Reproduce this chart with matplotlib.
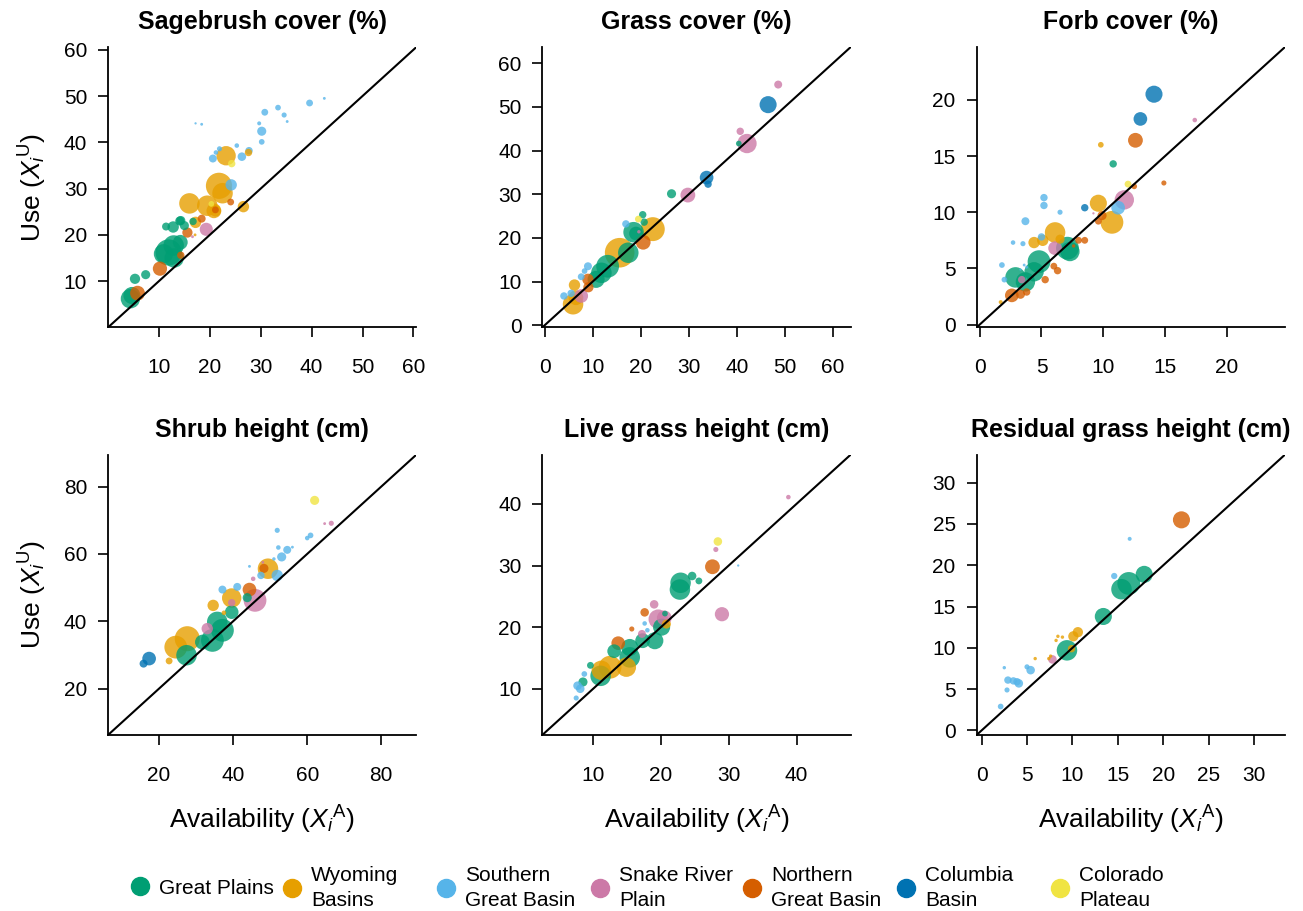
import matplotlib
matplotlib.use("Agg")
import matplotlib.pyplot as plt
from matplotlib.lines import Line2D

plt.rcParams['font.family'] = ['Liberation Sans', 'DejaVu Sans']
plt.rcParams['mathtext.fontset'] = 'custom'
plt.rcParams['mathtext.rm'] = 'Liberation Sans'
plt.rcParams['mathtext.it'] = 'Liberation Sans:italic'

# ecoregions (legend order) and Okabe-Ito colours
region_codes = ['GP', 'WB', 'SGB', 'SRP', 'NGB', 'CB', 'CP']
region_names = ['Great Plains', 'Wyoming\nBasins', 'Southern\nGreat Basin', 'Snake River\nPlain',
                'Northern\nGreat Basin', 'Columbia\nBasin', 'Colorado\nPlateau']
region_colors = {'GP': '#009E73', 'WB': '#E69F00', 'SGB': '#56B4E9', 'SRP': '#CC79A7',
                 'NGB': '#D55E00', 'CB': '#0072B2', 'CP': '#F0E442'}

# (region, availability, use, relative weight)
sagebrush = [
    ('SGB', 39.6, 48.5, 6), ('SGB', 42.5, 49.5, 2.5), ('SGB', 33.4, 47.5, 5), ('SGB', 30.8, 46.5, 6),
    ('SGB', 34.6, 45.9, 4.5), ('SGB', 35.2, 44.5, 2.5), ('SGB', 29.7, 44.1, 3.5), ('SGB', 30.2, 42.4, 8),
    ('SGB', 30.2, 40.1, 5), ('SGB', 17.2, 44.1, 2), ('SGB', 18.4, 43.9, 2.5), ('SGB', 25.3, 39.3, 4),
    ('SGB', 21.9, 38.6, 4.5), ('SGB', 21.2, 37.8, 4), ('SGB', 20.6, 36.5, 7), ('SGB', 26.3, 36.9, 7.5),
    ('SGB', 27.7, 38.2, 6.5), ('SGB', 24.2, 30.8, 10),
    ('WB', 23.2, 37.1, 17), ('WB', 21.8, 30.6, 23), ('WB', 22.5, 29.0, 18), ('WB', 16.0, 26.8, 18),
    ('WB', 19.5, 26.3, 18), ('WB', 20.8, 25.2, 13), ('WB', 26.6, 26.1, 10), ('WB', 21.1, 25.2, 10),
    ('WB', 17.2, 22.7, 10), ('WB', 27.6, 37.8, 6.5), ('WB', 17.1, 20.0, 2.5),
    ('CP', 24.3, 35.4, 6.5), ('CP', 20.3, 26.7, 5),
    ('NGB', 10.2, 12.7, 12.5), ('NGB', 5.8, 7.4, 13), ('NGB', 24.1, 27.1, 6), ('NGB', 15.6, 20.5, 9),
    ('NGB', 18.4, 23.5, 7), ('NGB', 14.3, 15.6, 6.5), ('NGB', 21.1, 25.4, 6),
    ('SRP', 19.3, 21.2, 11.5), ('SRP', 16.6, 19.6, 2.5),
    ('GP', 4.4, 6.2, 17), ('GP', 4.7, 6.9, 15), ('GP', 5.3, 10.5, 9), ('GP', 7.4, 11.4, 8),
    ('GP', 11.9, 16.2, 23), ('GP', 12.9, 17.7, 18), ('GP', 10.9, 15.9, 17), ('GP', 13.0, 15.0, 17),
    ('GP', 14.2, 18.4, 13), ('GP', 11.4, 21.8, 7), ('GP', 12.8, 21.7, 10), ('GP', 14.1, 23.0, 8),
    ('GP', 15.0, 22.0, 8), ('GP', 16.7, 22.9, 6.5), ('GP', 14.3, 23.1, 8),
]

grass = [
    ('SRP', 48.6, 55.1, 7), ('SRP', 40.7, 44.4, 6.5), ('SRP', 42.1, 41.6, 17), ('SRP', 29.8, 29.8, 13),
    ('SRP', 7.6, 6.7, 12), ('SRP', 19.6, 21.4, 3),
    ('CB', 46.5, 50.5, 15), ('CB', 33.7, 33.8, 12), ('CB', 34.0, 32.3, 6.5),
    ('GP', 40.4, 41.6, 5), ('GP', 26.4, 30.1, 8), ('GP', 20.4, 25.3, 6.5), ('GP', 20.7, 23.6, 6.5),
    ('GP', 18.5, 21.3, 18), ('GP', 17.4, 16.6, 18), ('GP', 13.1, 13.5, 20), ('GP', 11.8, 12.0, 18),
    ('GP', 10.7, 10.5, 15), ('GP', 19.0, 21.0, 12),
    ('CP', 19.5, 24.3, 6),
    ('SGB', 16.9, 23.2, 6.5), ('SGB', 9.0, 13.5, 7), ('SGB', 7.6, 11.1, 6), ('SGB', 4.0, 6.7, 6.5),
    ('SGB', 5.5, 7.3, 6.5), ('SGB', 8.3, 12.4, 5),
    ('WB', 22.5, 22.0, 21), ('WB', 15.6, 16.6, 26), ('WB', 6.2, 9.2, 10), ('WB', 5.9, 4.8, 18),
    ('WB', 6.5, 6.3, 13),
    ('NGB', 20.5, 19.0, 13), ('NGB', 9.0, 10.5, 10), ('NGB', 9.1, 8.7, 9),
]

forb = [
    ('CB', 14.1, 20.5, 15), ('CB', 13.0, 18.3, 12), ('CB', 8.5, 10.4, 6.5),
    ('SRP', 17.4, 18.2, 4), ('SRP', 11.7, 11.1, 17), ('SRP', 6.1, 6.8, 12), ('SRP', 3.4, 4.0, 6.5),
    ('SRP', 9.2, 9.9, 2),
    ('NGB', 12.6, 16.4, 13), ('NGB', 12.5, 12.3, 5), ('NGB', 14.9, 12.6, 4.5), ('NGB', 9.9, 9.7, 8),
    ('NGB', 9.6, 9.2, 6), ('NGB', 8.0, 7.5, 6), ('NGB', 8.5, 7.5, 6), ('NGB', 6.0, 5.2, 6),
    ('NGB', 6.3, 4.8, 6.5), ('NGB', 5.3, 4.0, 6.5), ('NGB', 2.6, 2.6, 12), ('NGB', 3.3, 2.7, 8),
    ('NGB', 3.8, 2.9, 6.5), ('NGB', 7.6, 7.0, 3),
    ('WB', 9.8, 16.0, 5), ('WB', 9.6, 10.8, 15), ('WB', 10.7, 9.1, 20), ('WB', 6.1, 8.2, 18),
    ('WB', 4.4, 7.3, 10), ('WB', 5.1, 7.5, 10), ('WB', 6.5, 7.6, 8), ('WB', 1.7, 2.0, 3.5),
    ('GP', 10.8, 14.3, 6.5), ('GP', 7.1, 6.8, 20), ('GP', 7.3, 6.5, 17), ('GP', 4.8, 5.6, 20),
    ('GP', 4.4, 4.7, 17), ('GP', 2.9, 4.2, 18), ('GP', 3.7, 3.8, 17),
    ('CP', 12.0, 12.5, 6),
    ('SGB', 11.2, 10.4, 12), ('SGB', 5.2, 11.3, 6.5), ('SGB', 5.2, 10.6, 6.5), ('SGB', 6.5, 10.0, 4.5),
    ('SGB', 3.7, 9.2, 7), ('SGB', 5.0, 7.8, 6.5), ('SGB', 2.7, 7.3, 4), ('SGB', 3.5, 7.2, 4.5),
    ('SGB', 1.8, 5.3, 5), ('SGB', 2.0, 4.0, 5), ('SGB', 3.6, 5.3, 2.5), ('SGB', 3.8, 5.1, 2.5),
    ('SGB', 3.3, 4.9, 2),
]

shrub_height = [
    ('CP', 62.0, 75.9, 8),
    ('SRP', 64.7, 69.0, 2.5), ('SRP', 66.5, 69.1, 4.5), ('SRP', 45.4, 52.6, 4), ('SRP', 45.9, 46.2, 20),
    ('SRP', 39.6, 45.5, 6.5), ('SRP', 33.0, 37.8, 10), ('SRP', 48.0, 57.5, 2.5),
    ('SGB', 51.9, 67.0, 4.5), ('SGB', 60.9, 65.5, 5), ('SGB', 60.0, 64.7, 4), ('SGB', 54.6, 61.2, 7),
    ('SGB', 52.2, 61.9, 4), ('SGB', 56.0, 62.0, 2.5), ('SGB', 53.1, 59.1, 8), ('SGB', 51.0, 58.5, 3),
    ('SGB', 44.4, 56.3, 2.5), ('SGB', 51.9, 53.6, 10), ('SGB', 47.5, 53.6, 6.5), ('SGB', 37.1, 49.4, 7),
    ('SGB', 41.1, 50.2, 7),
    ('WB', 49.4, 55.6, 18), ('WB', 39.6, 46.9, 17), ('WB', 34.6, 44.7, 10), ('WB', 37.5, 42.5, 4),
    ('WB', 27.6, 34.8, 22), ('WB', 24.5, 32.3, 20), ('WB', 22.7, 28.2, 6),
    ('NGB', 48.3, 55.7, 8), ('NGB', 44.4, 49.4, 12),
    ('GP', 43.8, 47.0, 8), ('GP', 39.6, 42.7, 12), ('GP', 35.7, 39.8, 18), ('GP', 37.1, 37.3, 20),
    ('GP', 34.4, 34.3, 20), ('GP', 31.7, 33.8, 13), ('GP', 27.4, 29.9, 18),
    ('CB', 17.3, 28.9, 12), ('CB', 15.8, 27.4, 7),
]

live_grass_height = [
    ('SRP', 38.8, 41.1, 4), ('SRP', 28.1, 32.6, 4.5), ('SRP', 29.0, 22.1, 12.5), ('SRP', 19.0, 23.7, 7.5),
    ('SRP', 19.6, 21.3, 17), ('SRP', 20.5, 21.5, 13), ('SRP', 17.2, 18.9, 7),
    ('CP', 28.4, 33.9, 7.5),
    ('NGB', 27.6, 29.8, 13), ('NGB', 17.6, 22.4, 7.5), ('NGB', 15.7, 19.7, 4.5), ('NGB', 13.7, 17.4, 12),
    ('SGB', 31.4, 30.0, 2), ('SGB', 17.6, 20.6, 4), ('SGB', 18.0, 19.5, 4), ('SGB', 7.7, 10.5, 7.5),
    ('SGB', 8.7, 12.4, 5), ('SGB', 8.1, 10.0, 7.5), ('SGB', 7.5, 8.5, 4.5),
    ('GP', 22.9, 27.2, 18), ('GP', 22.8, 26.1, 18), ('GP', 24.6, 28.3, 7.5), ('GP', 25.6, 27.5, 6),
    ('GP', 20.6, 22.2, 5), ('GP', 20.1, 20.0, 15), ('GP', 19.1, 17.8, 15), ('GP', 17.3, 17.8, 13),
    ('GP', 15.4, 16.7, 15), ('GP', 15.4, 15.1, 18), ('GP', 13.1, 16.1, 12), ('GP', 11.1, 12.1, 18),
    ('GP', 9.6, 13.8, 6), ('GP', 8.5, 11.1, 8),
    ('WB', 20.8, 20.5, 8), ('WB', 14.9, 13.5, 17), ('WB', 12.5, 13.5, 20), ('WB', 11.2, 13.0, 17),
]

residual_grass_height = [
    ('NGB', 22.0, 25.5, 15),
    ('SGB', 16.3, 23.2, 3.5), ('SGB', 14.6, 18.7, 5.5), ('SGB', 5.4, 7.3, 7.5), ('SGB', 5.0, 7.7, 4.5),
    ('SGB', 2.5, 7.6, 3), ('SGB', 2.9, 6.1, 6.5), ('SGB', 3.5, 6.0, 6.5), ('SGB', 3.9, 5.9, 6.5),
    ('SGB', 4.1, 5.7, 7.5), ('SGB', 2.8, 4.9, 4.5), ('SGB', 2.1, 2.9, 5),
    ('GP', 17.9, 18.9, 15), ('GP', 16.2, 17.8, 20), ('GP', 15.4, 17.1, 18), ('GP', 13.4, 13.8, 15),
    ('GP', 9.4, 9.7, 18),
    ('WB', 10.6, 11.9, 9), ('WB', 10.1, 11.4, 9), ('WB', 8.4, 11.4, 3), ('WB', 8.9, 11.3, 3),
    ('WB', 8.2, 10.9, 3), ('WB', 9.9, 9.9, 6.5), ('WB', 7.6, 9.0, 3), ('WB', 7.4, 8.7, 3),
    ('WB', 5.9, 8.7, 3),
    ('SRP', 7.8, 8.6, 7.5),
]

panel_titles = ['Sagebrush cover (%)', 'Grass cover (%)', 'Forb cover (%)',
                'Shrub height (cm)', 'Live grass height (cm)', 'Residual grass height (cm)']
panel_data = [sagebrush, grass, forb, shrub_height, live_grass_height, residual_grass_height]
panel_lims = [(0, 60.6), (-0.5, 63.7), (-0.25, 24.7), (6.2, 89.5), (2.5, 48), (-0.55, 33.4)]
panel_ticks = [[10, 20, 30, 40, 50, 60], [0, 10, 20, 30, 40, 50, 60], [0, 5, 10, 15, 20],
               [20, 40, 60, 80], [10, 20, 30, 40], [0, 5, 10, 15, 20, 25, 30]]

fig, axes = plt.subplots(2, 3, figsize=(13.03, 9.11), dpi=100)
fig.subplots_adjust(left=0.0829, right=0.9862, top=0.9484, bottom=0.1932, wspace=0.408, hspace=0.4536)

for ax, title, data, lim, ticks in zip(axes.flat, panel_titles, panel_data, panel_lims, panel_ticks):
    pts = sorted(data, key=lambda p: -p[3])
    xs = [p[1] for p in pts]
    ys = [p[2] for p in pts]
    cs = [region_colors[p[0]] for p in pts]
    ss = [(p[3] * 0.82) ** 2 for p in pts]
    ax.scatter(xs, ys, s=ss, c=cs, alpha=0.8, linewidths=0, zorder=2)
    ax.axline((0, 0), slope=1, color='black', lw=1.5, zorder=3)
    ax.set_xlim(lim)
    ax.set_ylim(lim)
    ax.set_xticks(ticks)
    ax.set_yticks(ticks)
    ax.set_title(title, fontsize=18, fontweight='bold', pad=13)
    for side in ['top', 'right']:
        ax.spines[side].set_visible(False)
    for side in ['left', 'bottom']:
        ax.spines[side].set_linewidth(1.3)
    ax.tick_params(direction='out', length=7, width=1.2, labelsize=15)
    ax.tick_params(axis='x', pad=15)
    ax.tick_params(axis='y', pad=8)

for ax in axes[:, 0]:
    ax.set_ylabel(r'Use (${X_i}^{\mathrm{U}}$)', fontsize=19, labelpad=11)
for ax in axes[1, :]:
    ax.set_xlabel(r'Availability (${X_i}^{\mathrm{A}}$)', fontsize=19, labelpad=14)

legend_x = [140, 292, 446, 600, 752, 906, 1060]
for code, name, lx in zip(region_codes, region_names, legend_x):
    h = Line2D([], [], marker='o', ls='', color=region_colors[code], markersize=13)
    leg = fig.legend(handles=[h], labels=[name], loc='center left',
                     bbox_to_anchor=((lx - 9) / 1303, 1 - 888 / 911), frameon=False,
                     borderpad=0, borderaxespad=0, handlelength=0.9, handletextpad=0.45,
                     fontsize=15)
    for t in leg.get_texts():
        t.set_linespacing(1.35)

fig.savefig('out.png', dpi=100)
